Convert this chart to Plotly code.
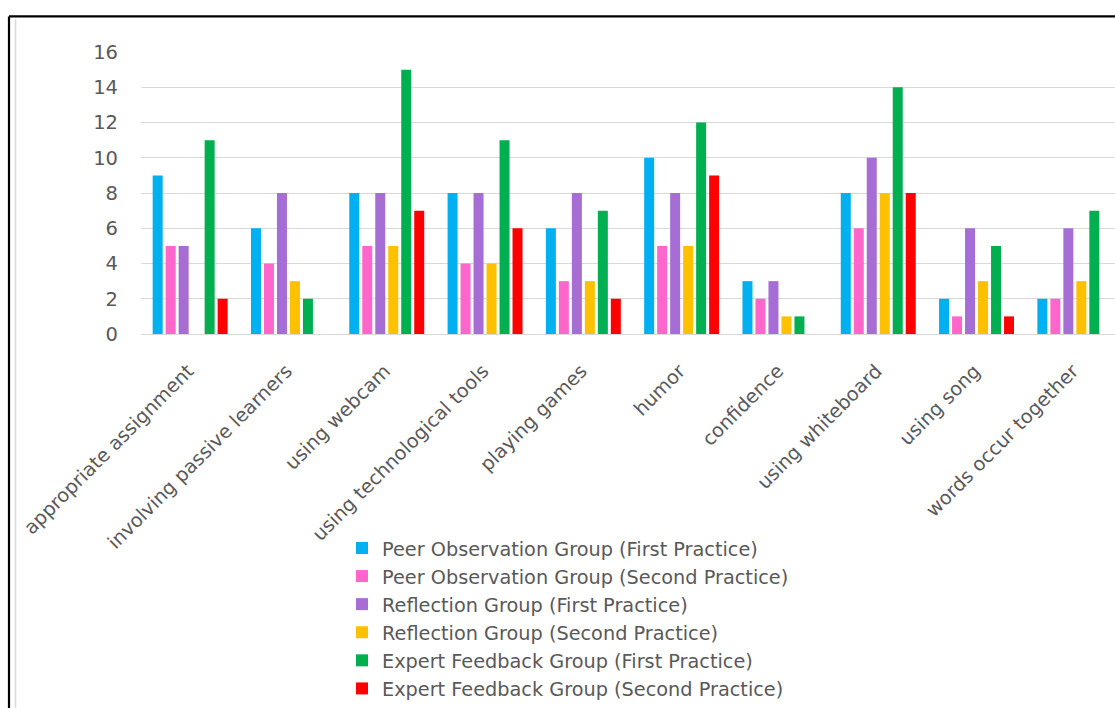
import plotly.graph_objects as go

categories = [
    "appropriate assignment", "involving passive learners", "using webcam",
    "using technological tools", "playing games", "humor", "confidence",
    "using whiteboard", "using song", "words occur together",
]

peer_first = [9, 6, 8, 8, 6, 10, 3, 8, 2, 2]
peer_second = [5, 4, 5, 4, 3, 5, 2, 6, 1, 2]
reflection_first = [5, 8, 8, 8, 8, 8, 3, 10, 6, 6]
reflection_second = [0, 3, 5, 4, 3, 5, 1, 8, 3, 3]
expert_first = [11, 2, 15, 11, 7, 12, 1, 14, 5, 7]
expert_second = [2, 0, 7, 6, 2, 9, 0, 8, 1, 0]

series_names = [
    "Peer Observation Group (First Practice)",
    "Peer Observation Group (Second Practice)",
    "Reflection Group (First Practice)",
    "Reflection Group (Second Practice)",
    "Expert Feedback Group (First Practice)",
    "Expert Feedback Group (Second Practice)",
]
series_values = [peer_first, peer_second, reflection_first,
                 reflection_second, expert_first, expert_second]
series_colors = ["#00B0F0", "#FF66CC", "#A66DD4", "#FFC000", "#00B050", "#FF0000"]

y_ticks = [0, 2, 4, 6, 8, 10, 12, 14, 16]

# canvas and plot-area geometry (pixels)
W, H = 1115, 708
L, R, T, B = 141, 0, 52, 371
plot_w = W - L - R
plot_h = H - T - B

FONT = "DejaVu Sans"
TEXT = "#595959"


def px_x(x):
    return (x - L) / plot_w


def px_y(y):
    return (H - B - y) / plot_h


fig = go.Figure()
for i, (name, vals, col) in enumerate(zip(series_names, series_values, series_colors)):
    fig.add_trace(go.Bar(
        x=categories, y=vals, name=name,
        marker=dict(color=col, line=dict(width=0)),
        legendgroup=f"g{i}",
    ))

# frame around the whole chart, running off the right and bottom edges
fig.add_shape(type="line", xref="paper", yref="paper",
              x0=px_x(9), x1=px_x(9), y0=px_y(16), y1=px_y(760),
              line=dict(color="#000000", width=2.2))
fig.add_shape(type="line", xref="paper", yref="paper",
              x0=px_x(9), x1=px_x(1160), y0=px_y(16), y1=px_y(16),
              line=dict(color="#000000", width=2.2))
fig.add_shape(type="line", xref="paper", yref="paper",
              x0=px_x(15.5), x1=px_x(15.5), y0=px_y(19), y1=px_y(760),
              line=dict(color="#D9D9D9", width=1.6))

# category band extends slightly past the right edge of the canvas
cat_w = 98.3
x_hi = -0.5 + plot_w / cat_w

fig.update_layout(
    width=W, height=H,
    margin=dict(l=L, r=R, t=T, b=B, pad=0),
    paper_bgcolor="white", plot_bgcolor="white",
    barmode="group", bargap=0.207, bargroupgap=0.23,
    font=dict(family=FONT, color=TEXT, size=18),
    showlegend=True,
    legend=dict(
        x=px_x(342), y=px_y(534), xanchor="left", yanchor="top",
        font=dict(family=FONT, size=19.3, color=TEXT),
        tracegroupgap=0, bgcolor="rgba(0,0,0,0)",
        itemclick=False, itemdoubleclick=False,
    ),
    xaxis=dict(
        range=[-0.5, x_hi], tickangle=-45, showgrid=False, showline=False,
        ticks="", tickfont=dict(family=FONT, size=19.3, color=TEXT),
        zeroline=False, ticklabelstandoff=21, ticklabelshift=-2,
    ),
    yaxis=dict(
        range=[0, 16], tickvals=y_ticks, showgrid=True, gridcolor="#D9D9D9",
        gridwidth=1.4, zeroline=True, zerolinecolor="#D9D9D9", zerolinewidth=1.4,
        showline=False, ticks="", ticklabelstandoff=22,
        tickfont=dict(family=FONT, size=19.5, color=TEXT),
    ),
)

fig.write_html("out.html")
